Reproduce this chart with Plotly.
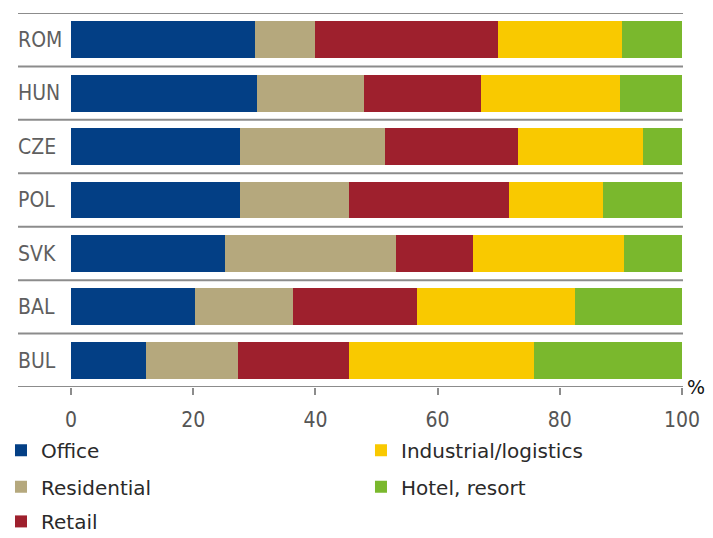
import plotly.graph_objects as go

categories = ["ROM", "HUN", "CZE", "POL", "SVK", "BAL", "BUL"]
series_names = ["Office", "Residential", "Retail", "Industrial/logistics", "Hotel, resort"]
office = [30.1, 30.4, 27.7, 27.7, 25.2, 20.3, 12.3]
residential = [9.8, 17.6, 23.7, 17.8, 28.0, 16.0, 15.0]
retail = [30.0, 19.1, 21.8, 26.2, 12.6, 20.3, 18.2]
industrial = [20.3, 22.8, 20.4, 15.4, 24.7, 25.9, 30.3]
hotel = [9.8, 10.1, 6.4, 12.9, 9.5, 17.5, 24.2]
x_ticks = [0, 20, 40, 60, 80, 100]

series_values = [office, residential, retail, industrial, hotel]
colors = ["#033F85", "#B5A87D", "#9E202D", "#F9C900", "#7AB82D"]

# legend placement (paper coords): two columns, column-major order
legend_pos = [(-0.0134, -0.1694), (-0.0134, -0.267), (-0.0134, -0.3594),
              (0.5223, -0.1694), (0.5223, -0.267)]
legend_ids = ["legend", "legend2", "legend3", "legend4", "legend5"]

narrow = "Liberation Sans Narrow, Arial Narrow, DejaVu Sans Condensed, sans-serif"
legend_font = dict(family="DejaVu Sans, sans-serif", size=20, color="#2a2a2a")

fig = go.Figure()
for name, vals, col, lid in zip(series_names, series_values, colors, legend_ids):
    fig.add_trace(go.Bar(
        y=categories, x=vals, name=name, orientation="h",
        marker=dict(color=col, line=dict(width=0)),
        legend=lid,
    ))

layout_legends = {}
for lid, (lx, ly) in zip(legend_ids, legend_pos):
    layout_legends[lid] = dict(
        x=lx, y=ly, xanchor="left", yanchor="middle",
        font=legend_font, bgcolor="rgba(0,0,0,0)", borderwidth=0,
    )

fig.update_layout(
    width=713, height=538,
    margin=dict(l=10, r=31, t=13, b=151, autoexpand=False),
    paper_bgcolor="white", plot_bgcolor="white",
    barmode="stack", bargap=0.31,
    showlegend=True,
    xaxis=dict(
        domain=[0.0908, 1.0], range=[0, 100],
        tickvals=x_ticks, ticktext=[str(v) for v in x_ticks],
        ticks="outside", ticklen=7, tickwidth=1.5, tickcolor="#8c8c8c",
        ticklabelstandoff=7,
        showline=False, showgrid=False, zeroline=False,
        tickfont=dict(family=narrow, size=21, color="#555555"),
        automargin=False, fixedrange=True,
    ),
    yaxis=dict(
        type="category", categoryorder="array", categoryarray=categories,
        range=[6.5, -0.5],
        anchor="free", position=0,
        ticklabelposition="inside", ticks="",
        ticklabelstandoff=4,
        showline=False, showgrid=False, zeroline=False,
        tickfont=dict(family=narrow, size=21, color="#5f5f5f"),
        automargin=False, fixedrange=True,
    ),
    **layout_legends,
)

# separator lines between rows, and bottom axis line
for k in range(len(categories) + 1):
    fig.add_shape(type="line", xref="paper", yref="y",
                  x0=0.0119, x1=1.0015, y0=k - 0.5, y1=k - 0.5,
                  line=dict(color="#8c8c8c", width=2), layer="below")

fig.add_annotation(text="%", xref="paper", yref="paper", x=1.0045, y=0,
                   xanchor="left", yanchor="middle", showarrow=False,
                   font=dict(family="DejaVu Sans, sans-serif", size=19, color="#111111"))

fig.write_html("out.html")
